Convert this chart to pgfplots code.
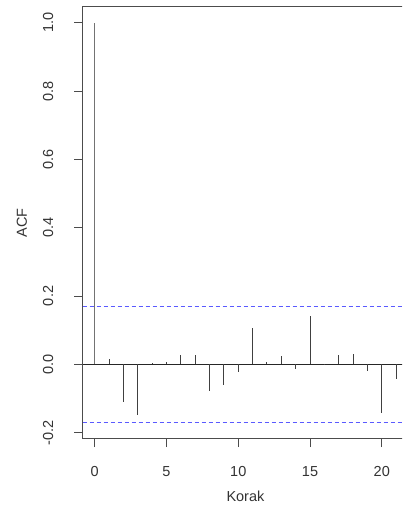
\documentclass[border=0pt]{standalone}
\usepackage{pgfplots}
\pgfplotsset{compat=1.18}
\usepackage{fontspec}
\setmainfont{Liberation Sans}
\definecolor{cilim}{RGB}{90,90,255}
\pgfplotstableread{
lag acf
1 0.016
2 -0.110
3 -0.149
4 0.005
5 0.006
6 0.028
7 0.028
8 -0.078
9 -0.061
10 -0.022
11 0.107
12 0.006
13 0.023
14 -0.015
15 0.140
16 -0.003
17 0.026
18 0.029
19 -0.020
20 -0.143
21 -0.044
}\acfdata
\begin{document}
\begin{tikzpicture}
\clip (-82.7pt,-67.3pt) rectangle (319.3pt,438.7pt);
\begin{axis}[
  at={(0,0)}, anchor=south west,
  scale only axis, width=325.5pt, height=432pt,
  xmin=-0.84, xmax=21.84, ymin=-0.218, ymax=1.047,
  axis line style={black!70, line width=0.9pt},
  tick align=outside, xtick pos=left, ytick pos=left,
  major tick length=8.5pt,
  tick style={black!70, line width=0.9pt},
  xtick={0,5,10,15,20}, xticklabels={0,5,10,15,20},
  ytick={-0.2,0,0.2,0.4,0.6,0.8,1.0},
  yticklabels={-0.2,0.0,0.2,0.4,0.6,0.8,1.0},
  tick label style={font=\fontsize{14.5}{17}\selectfont, text=black!80},
  yticklabel style={xshift=-21pt, rotate=90, anchor=base, inner sep=0pt},
  xticklabel style={yshift=-29.6pt, anchor=base, inner sep=0pt},
  every axis y label/.style={at={(rel axis cs:0,0.5)}, xshift=-60.7pt, rotate=90, anchor=center},
  every axis x label/.style={at={(rel axis cs:0.5,0)}, yshift=-63pt, anchor=base},
  label style={font=\fontsize{14.5}{17}\selectfont, text=black!80},
  ylabel={ACF}, xlabel={Korak},
  clip=true,
]
\addplot[cilim, line width=1pt, dash pattern=on 4pt off 3pt] coordinates {(-0.84,0.17) (21.84,0.17)};
\addplot[cilim, line width=1pt, dash pattern=on 4pt off 3pt] coordinates {(-0.84,-0.172) (21.84,-0.172)};
\addplot[black!85, line width=0.8pt] coordinates {(-0.84,0) (21.84,0)};
\addplot[ycomb, black!55, line width=1.3pt, mark=none] coordinates {(0,1.0)};
\addplot[ycomb, black!75, line width=1pt, mark=none] table[x=lag, y=acf] {\acfdata};
\end{axis}
\end{tikzpicture}
\end{document}
